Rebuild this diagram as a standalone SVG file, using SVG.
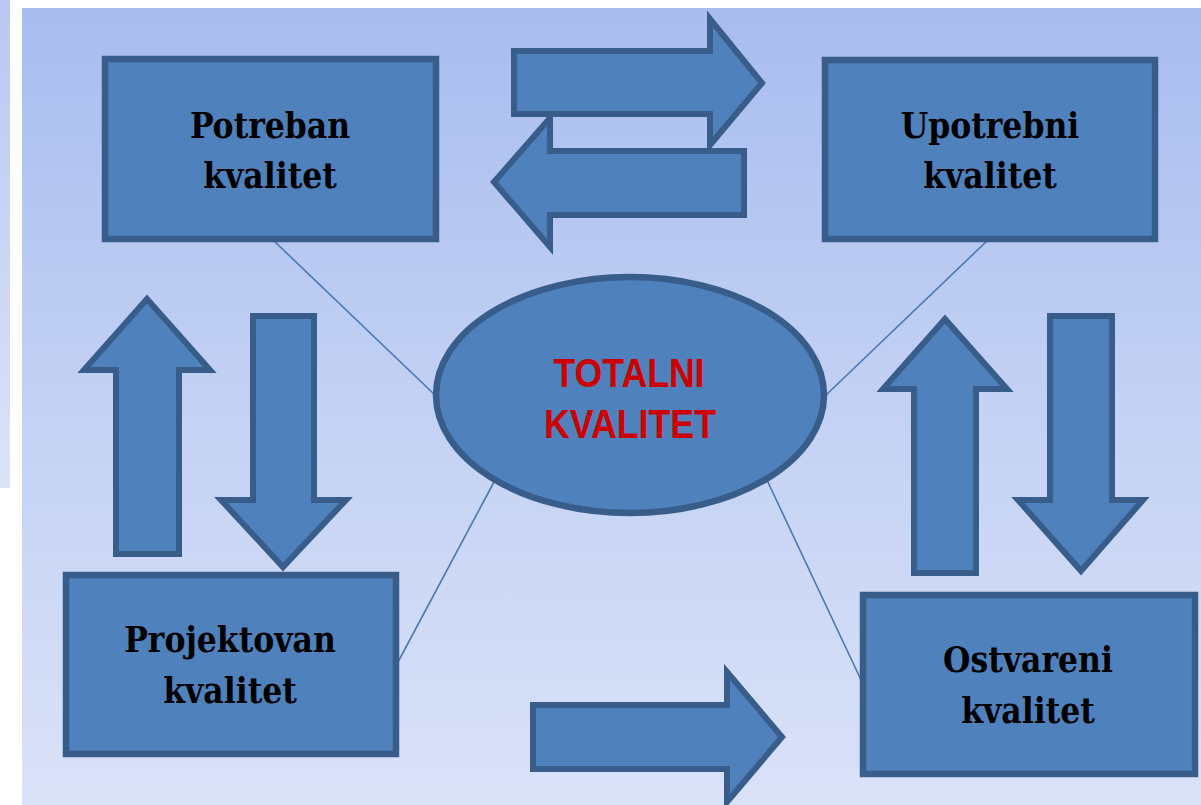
<svg xmlns="http://www.w3.org/2000/svg" width="1201" height="805" viewBox="0 0 1201 805">
  <defs>
    <linearGradient id="bgGrad" x1="0" y1="0" x2="0" y2="1">
      <stop offset="0" stop-color="#a8bcef"/>
      <stop offset="0.5" stop-color="#c3d1f3"/>
      <stop offset="1" stop-color="#dae2f8"/>
    </linearGradient>
    <linearGradient id="stripGrad" x1="0" y1="0" x2="0" y2="1">
      <stop offset="0" stop-color="#b9c8f1"/>
      <stop offset="1" stop-color="#dbe3f9"/>
    </linearGradient>
    <style>
      .box { fill: #4f81bd; stroke: #385d8a; stroke-width: 6.5; }
      .arrow { fill: #4f81bd; stroke: #385d8a; stroke-width: 6; stroke-linejoin: miter; }
      .link { stroke: #4a78b4; stroke-width: 1.6; fill: none; }
      .label { font-family: "DejaVu Serif", "Liberation Serif", serif; font-weight: bold; font-stretch: condensed; font-size: 35px; fill: #000; text-anchor: middle; }
      .core { font-family: "Liberation Sans", Arial, sans-serif; font-weight: bold; font-size: 40px; fill: #cc0000; text-anchor: middle; }
    </style>
  </defs>

  <!-- page background -->
  <rect x="0" y="0" width="1201" height="805" fill="#ffffff"/>
  <rect x="0" y="0" width="10" height="488" fill="url(#stripGrad)"/>
  <rect x="22" y="8" width="1179" height="797" fill="url(#bgGrad)"/>

  <!-- connectors: thin lines from each box to the central ellipse -->
  <g id="connectors">
    <line class="link" x1="273" y1="240" x2="436" y2="396"/>
    <line class="link" x1="988" y1="240" x2="825" y2="396"/>
    <line class="link" x1="494" y1="482" x2="398" y2="662"/>
    <line class="link" x1="766" y1="478" x2="862" y2="682"/>
  </g>

  <!-- block arrows -->
  <g id="arrows">
    <polygon id="arrow-left-top" class="arrow" points="744,151 550,151 550,118 494,182 550,247 550,215 744,215"/>
    <polygon id="arrow-right-top" class="arrow" points="514,51 710,51 710,19 762,83 710,145 710,114 514,114"/>
    <polygon id="arrow-up-left" class="arrow" points="147,299 84,370 116,370 116,554 179,554 179,370 210,370"/>
    <polygon id="arrow-down-left" class="arrow" points="253,316 314,316 314,500 346,500 283,567 221,500 253,500"/>
    <polygon id="arrow-up-right" class="arrow" points="945,319 883,389 914,389 914,573 976,573 976,389 1007,389"/>
    <polygon id="arrow-down-right" class="arrow" points="1050,316 1112,316 1112,500 1143,500 1081,571 1018,500 1050,500"/>
    <polygon id="arrow-right-bottom" class="arrow" points="533,705 727,705 727,672 782,737 727,802 727,769 533,769"/>
  </g>

  <!-- quality nodes -->
  <g id="node-potreban">
    <rect class="box" x="105" y="59" width="331" height="180"/>
    <text class="label" x="270" y="138">Potreban</text>
    <text class="label" x="270" y="188">kvalitet</text>
  </g>

  <g id="node-upotrebni">
    <rect class="box" x="825" y="60" width="330" height="179"/>
    <text class="label" x="990" y="138">Upotrebni</text>
    <text class="label" x="990" y="188">kvalitet</text>
  </g>

  <g id="node-projektovan">
    <rect class="box" x="66" y="575" width="330" height="179"/>
    <text class="label" x="230" y="652">Projektovan</text>
    <text class="label" x="230" y="703">kvalitet</text>
  </g>

  <g id="node-ostvareni">
    <rect class="box" x="863" y="595" width="332" height="179"/>
    <text class="label" x="1028" y="672">Ostvareni</text>
    <text class="label" x="1028" y="723">kvalitet</text>
  </g>

  <g id="node-totalni">
    <ellipse class="box" cx="630" cy="395" rx="194" ry="118"/>
    <text class="core" x="629" y="387" textLength="151" lengthAdjust="spacingAndGlyphs">TOTALNI</text>
    <text class="core" x="630" y="438" textLength="172" lengthAdjust="spacingAndGlyphs">KVALITET</text>
  </g>
</svg>
